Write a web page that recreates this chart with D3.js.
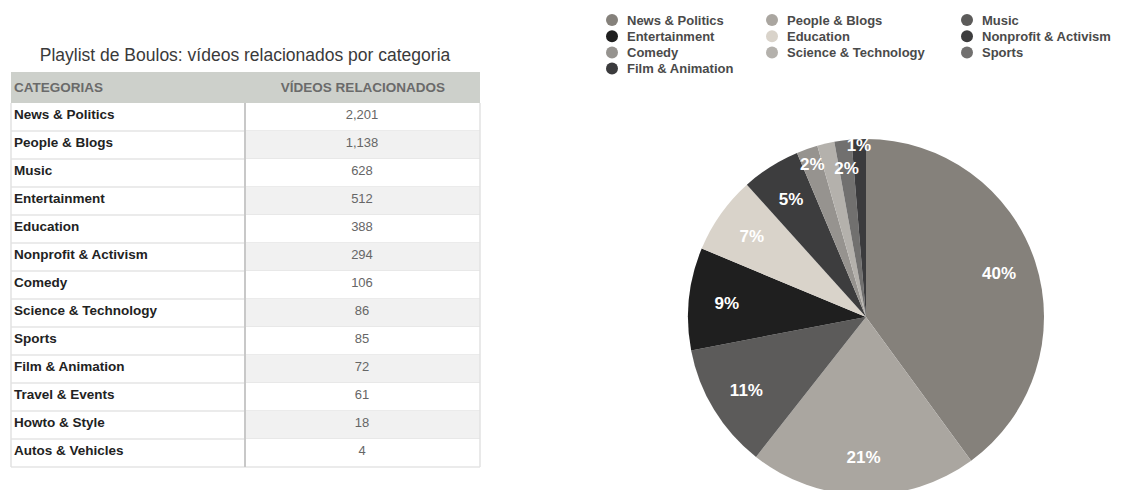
<!DOCTYPE html>
<html>
<head>
<meta charset="utf-8">
<script src="https://cdn.jsdelivr.net/npm/d3@7"></script>
<style>
  body { margin: 0; background: #fff; }
  svg { display: block; font-family: "Liberation Sans", Arial, sans-serif; }
</style>
</head>
<body>
<script>
// table data
const categories = ["News & Politics", "People & Blogs", "Music", "Entertainment", "Education",
  "Nonprofit & Activism", "Comedy", "Science & Technology", "Sports", "Film & Animation",
  "Travel & Events", "Howto & Style", "Autos & Vehicles"];
const videos = [2201, 1138, 628, 512, 388, 294, 106, 86, 85, 72, 61, 18, 4];

// pie only shows the first ten categories
const pieCategories = categories.slice(0, 10);
const pieValues = videos.slice(0, 10);
const pieColors = ["#85817b", "#aaa6a0", "#5c5b5a", "#1f1f1f", "#d9d3ca",
  "#3d3d3e", "#96938f", "#b4b1ac", "#71706f", "#3b3b3d"];
const title = "Playlist de Boulos: vídeos relacionados por categoria";

const width = 1127, height = 490;

const svg = d3.select("body").append("svg")
  .attr("width", width)
  .attr("height", height);

// ---- table ----
const tx0 = 11, tx1 = 480, colX = 245, headTop = 72, headH = 31, rowH = 28;

svg.append("text")
  .attr("x", 245).attr("y", 61)
  .attr("text-anchor", "middle")
  .attr("font-size", 17.5)
  .attr("fill", "#3a3a3a")
  .text(title);

svg.append("rect")
  .attr("x", tx0).attr("y", headTop)
  .attr("width", tx1 - tx0).attr("height", headH)
  .attr("fill", "#cdd0cb");

svg.append("text")
  .attr("x", 14).attr("y", headTop + 20)
  .attr("font-size", 13.5).attr("font-weight", "bold")
  .attr("fill", "#6a6a6a")
  .text("CATEGORIAS");

svg.append("text")
  .attr("x", 363).attr("y", headTop + 20)
  .attr("text-anchor", "middle")
  .attr("font-size", 13.5).attr("font-weight", "bold")
  .attr("fill", "#6a6a6a")
  .text("VÍDEOS RELACIONADOS");

const y = d3.scaleBand()
  .domain(categories)
  .range([headTop + headH, headTop + headH + rowH * categories.length]);

const rows = svg.append("g").selectAll("g")
  .data(categories.map((c, i) => ({ c, v: videos[i], i })))
  .join("g")
  .attr("transform", d => `translate(0,${y(d.c)})`);

rows.append("rect")
  .attr("x", colX).attr("width", tx1 - colX).attr("height", rowH)
  .attr("fill", d => d.i % 2 ? "#f1f1f1" : "#fff");

rows.append("line")
  .attr("x1", tx0).attr("x2", tx1)
  .attr("y1", rowH).attr("y2", rowH)
  .attr("stroke", "#e4e4e4").attr("stroke-width", 1.5);

rows.append("text")
  .attr("x", 14).attr("y", 15.5)
  .attr("font-size", 13.5).attr("font-weight", "bold")
  .attr("fill", "#222")
  .text(d => d.c);

rows.append("text")
  .attr("x", 362).attr("y", 15.5)
  .attr("text-anchor", "middle")
  .attr("font-size", 13)
  .attr("fill", "#666")
  .text(d => d3.format(",")(d.v));

const tBottom = y.range()[1];
svg.append("g")
  .attr("stroke", "#e2e2e2").attr("stroke-width", 1.5)
  .selectAll("line")
  .data([tx0, tx1])
  .join("line")
  .attr("x1", d => d).attr("x2", d => d)
  .attr("y1", headTop + headH).attr("y2", tBottom);

svg.append("line")
  .attr("x1", colX).attr("x2", colX)
  .attr("y1", headTop + headH).attr("y2", tBottom)
  .attr("stroke", "#c8c8c8").attr("stroke-width", 2);

// ---- legend ----
const legend = svg.append("g").selectAll("g")
  .data(pieCategories)
  .join("g")
  .attr("transform", (d, i) => {
    const col = i % 3, row = Math.floor(i / 3);
    return `translate(${[612, 772, 967][col]},${20 + row * 16.2})`;
  });

legend.append("circle")
  .attr("r", 6)
  .attr("fill", (d, i) => pieColors[i]);

legend.append("text")
  .attr("x", 15).attr("y", 4.5)
  .attr("font-size", 13).attr("font-weight", "bold")
  .attr("fill", "#4a4a4a")
  .text(d => d);

// ---- pie ----
const cx = 866, cy = 317, R = 178;
const total = d3.sum(pieValues);

const pie = d3.pie().sort(null).value(d => d.v);
const arcs = pie(pieCategories.map((c, i) => ({ c, v: pieValues[i], i })));
const arc = d3.arc().innerRadius(0).outerRadius(R);

const gp = svg.append("g").attr("transform", `translate(${cx},${cy})`);

gp.selectAll("path")
  .data(arcs)
  .join("path")
  .attr("d", arc)
  .attr("fill", d => pieColors[d.data.i]);

// small slices get pushed outward, one of them is hidden (as in the original)
const smallR = { "Comedy": 162, "Sports": 150, "Film & Animation": 172 };
const labelArcs = arcs.filter(d => d.data.c !== "Science & Technology");

gp.selectAll("text")
  .data(labelArcs)
  .join("text")
  .attr("transform", d => {
    const r = smallR[d.data.c] || 140;
    const a = (d.startAngle + d.endAngle) / 2;
    return `translate(${r * Math.sin(a)},${-r * Math.cos(a)})`;
  })
  .attr("text-anchor", "middle")
  .attr("dy", "0.35em")
  .attr("font-size", 17).attr("font-weight", "bold")
  .attr("fill", "#fff")
  .text(d => Math.round(d.data.v / total * 100) + "%");
</script>
</body>
</html>
